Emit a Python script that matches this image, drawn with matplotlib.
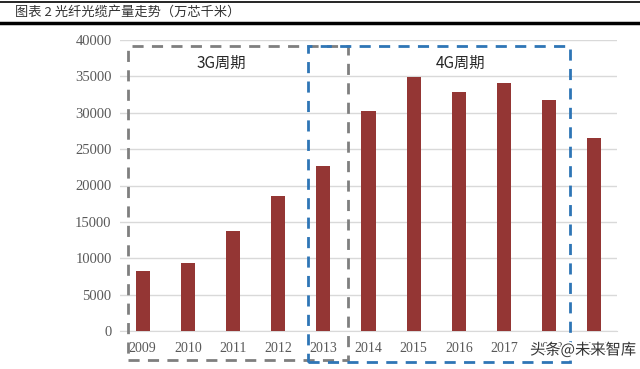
import matplotlib
matplotlib.use("Agg")
import matplotlib.pyplot as plt
from matplotlib.patches import Rectangle
from matplotlib.lines import Line2D
import matplotlib.patheffects as pe

years = ["2009", "2010", "2011", "2012", "2013", "2014", "2015", "2016", "2017", "2018", "2019"]
values = [8300, 9400, 13700, 18500, 22700, 30300, 34900, 32900, 34100, 31700, 26500]
yticks = [0, 5000, 10000, 15000, 20000, 25000, 30000, 35000, 40000]
title = "图表 2 光纤光缆产量走势（万芯千米）"
label_3g = "3G周期"
label_4g = "4G周期"
watermark = "头条@未来智库"

cjk = ["Noto Sans CJK SC", "DejaVu Sans"]

fig = plt.figure(figsize=(6.4, 3.69), dpi=100)
ax = fig.add_axes([120/640, 1-331/369, 497/640, 291/369])

x = list(range(len(years)))
ax.bar(x, values, width=0.31, color="#943634", zorder=3)
ax.set_xlim(-0.5, len(years) - 0.5)
ax.set_ylim(0, 40000)
ax.set_yticks(yticks)
ax.set_yticklabels([str(v) for v in yticks], family="Liberation Serif", fontsize=10.5, color="#595959")
ax.set_xticks(x)
ax.set_xticklabels(years, family="Liberation Serif", fontsize=10, color="#595959")
ax.tick_params(length=0, pad=6)
ax.tick_params(axis="x", pad=8)
ax.grid(axis="y", color="#d9d9d9", linewidth=1, zorder=0)
for s in ["top", "right", "left"]:
    ax.spines[s].set_visible(False)
ax.spines["bottom"].set_color("#d9d9d9")

# dashed period boxes
ax.add_patch(Rectangle((-0.32, -4000), 4.86, 43200, fill=False, edgecolor="#7f7f7f",
                       linestyle=(0, (4, 3)), linewidth=2, clip_on=False, zorder=4))
ax.add_patch(Rectangle((3.66, -4250), 5.80, 43450, fill=False, edgecolor="#2e75b6",
                       linestyle=(0, (4, 3)), linewidth=2, clip_on=False, zorder=5))
ax.text(1.75, 36800, label_3g, family=cjk, fontsize=11, color="#262626", ha="center", va="center")
ax.text(7.04, 36800, label_4g, family=cjk, fontsize=11, color="#262626", ha="center", va="center")

# title and rules
fig.text(15/640, 1-12/369, title, family=cjk, fontsize=9.5, color="#333333", va="center")
fig.add_artist(Line2D([0, 1], [1-2/369, 1-2/369], color="black", linewidth=1.2))
fig.add_artist(Line2D([0, 1], [1-23/369, 1-23/369], color="black", linewidth=2.5))

fig.text(583/640, 1-350/369, watermark, family=cjk, fontsize=11, color="#333333", ha="center", va="center",
         path_effects=[pe.withStroke(linewidth=2.5, foreground="white")], zorder=10)

fig.savefig("out.png", dpi=100)
